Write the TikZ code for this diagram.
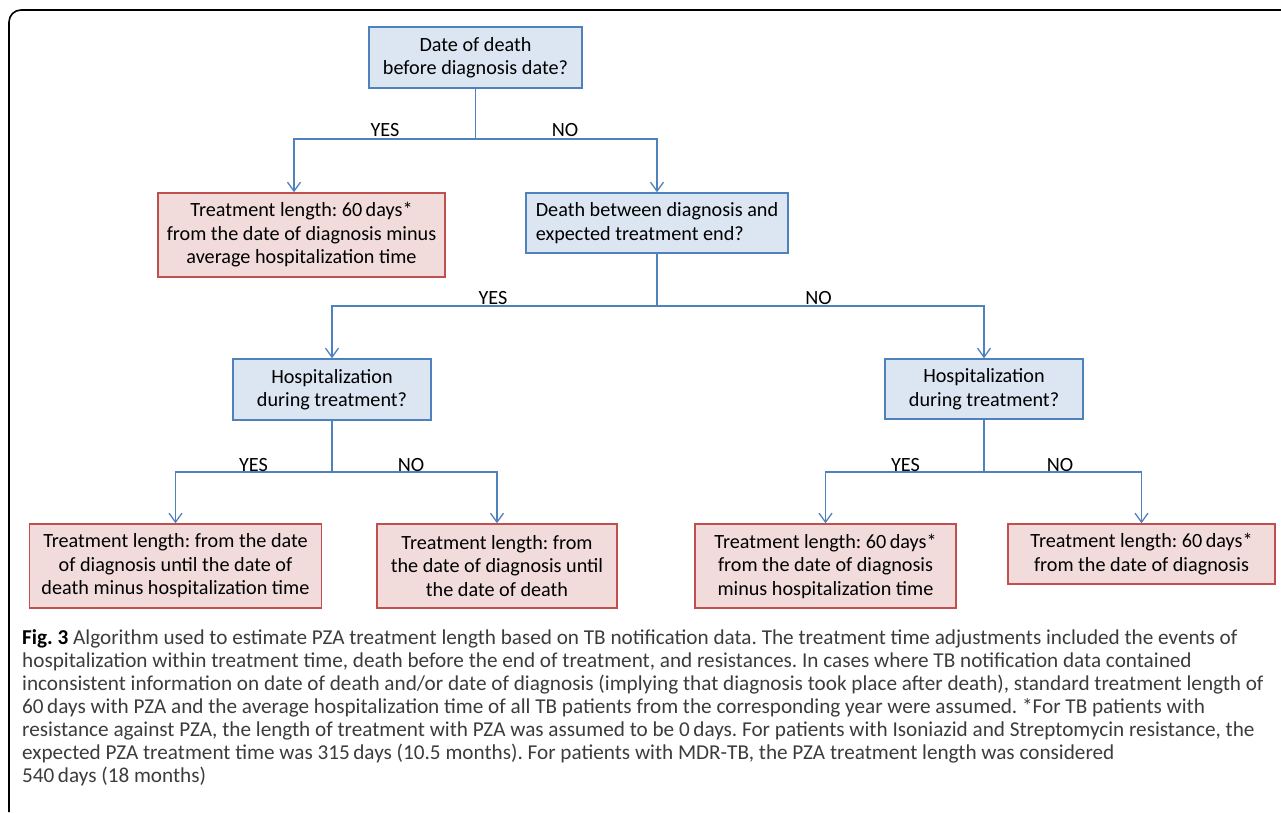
\documentclass[tikz,border=0pt]{standalone}
\usepackage{fontspec}
\setmainfont{Carlito}
\usepackage{xcolor}
\usetikzlibrary{arrows.meta,positioning}
\frenchspacing

\definecolor{qfill}{HTML}{DCE6F2}
\definecolor{qline}{HTML}{4F81BD}
\definecolor{rfill}{HTML}{F2DCDB}
\definecolor{rline}{HTML}{C0504D}
\definecolor{capgray}{HTML}{3C3C3C}

\begin{document}
\begin{tikzpicture}[x=1pt,y=-1pt,
  every node/.style={font=\fontsize{20.2}{23.5}\selectfont},
  quest/.style={draw=qline,fill=qfill,line width=1.5pt,align=center,inner sep=2pt},
  result/.style={draw=rline,fill=rfill,line width=1.5pt,align=center,inner sep=2pt},
  lbl/.style={anchor=base,inner sep=0pt},
  link/.style={draw=qline,line width=1.3pt,-{Straight Barb[length=9pt,width=13pt]}}]
\useasboundingbox (0,0) rectangle (1281,812);
% frame
\draw[line width=1.6pt,rounded corners=12pt] (9,812) -- (9,10) -- (1281,10);

% questions
\node[quest,minimum width=213pt,minimum height=61pt] (death) at (475.5,57.5) {Date of death\\before diagnosis date?};
\node[quest,align=left,minimum width=262pt,minimum height=60pt] (during) at (657,223) {Death between diagnosis and\\expected treatment end?};
\node[quest,minimum width=198pt,minimum height=61pt] (hospA) at (332,389.5) {Hospitalization\\during treatment?};
\node[quest,minimum width=198pt,minimum height=60pt] (hospB) at (984,389) {Hospitalization\\during treatment?};

% results
\node[result,minimum width=287pt,minimum height=84pt] (early) at (301.5,235) {Treatment length: 60\,days*\\from the date of diagnosis minus\\average hospitalization time};
\node[result,minimum width=292pt,minimum height=84pt] (resA) at (175.5,566) {Treatment length: from the date\\of diagnosis until the date of\\death minus hospitalization time};
\node[result,minimum width=240pt,minimum height=84pt] (resB) at (497,566) {Treatment length: from\\the date of diagnosis until\\the date of death};
\node[result,minimum width=261pt,minimum height=84pt] (resC) at (825.5,566) {Treatment length: 60\,days*\\from the date of diagnosis\\minus hospitalization time};
\node[result,minimum width=267pt,minimum height=60pt] (resD) at (1141.5,554) {Treatment length: 60\,days*\\from the date of diagnosis};

% branch points
\coordinate (j1) at (475.5,139);
\coordinate (j2) at (657,306);
\coordinate (j3) at (332,472);
\coordinate (j4) at (984,472);

\draw[link] (death) -- (j1) -| ([xshift=-7.5pt]early.north);
\draw[link] (j1) -| (during);
\draw[link] (during) -- (j2) -| (hospA);
\draw[link] (j2) -| (hospB);
\draw[link] (hospA) -- (j3) -| (resA);
\draw[link] (j3) -| (resB);
\draw[link] (hospB) -- (j4) -| (resC);
\draw[link] (j4) -| (resD);

\node[lbl] (yes1) at (385,136) {YES};
\node[lbl] (no1) at (565,136) {NO};
\node[lbl] (yes2) at (493,304) {YES};
\node[lbl] (no2) at (818.5,304) {NO};
\node[lbl] (yes3) at (253.5,471) {YES};
\node[lbl] (no3) at (411,471) {NO};
\node[lbl] (yes4) at (905.5,471) {YES};
\node[lbl] (no4) at (1060,471) {NO};

% caption
\node[anchor=north west,align=left,inner sep=0pt,text=capgray,font=\fontsize{21.2}{23}\selectfont] (caption) at (22,629) {%
{\color{black}\textbf{Fig. 3}} Algorithm used to estimate PZA treatment length based on TB notification data. The treatment time adjustments included the events of\\
hospitalization within treatment time, death before the end of treatment, and resistances. In cases where TB notification data contained\\
inconsistent information on date of death and/or date of diagnosis (implying that diagnosis took place after death), standard treatment length of\\
60\,days with PZA and the average hospitalization time of all TB patients from the corresponding year were assumed. *For TB patients with\\
resistance against PZA, the length of treatment with PZA was assumed to be 0\,days. For patients with Isoniazid and Streptomycin resistance, the\\
expected PZA treatment time was 315\,days (10.5 months). For patients with MDR-TB, the PZA treatment length was considered\\
540\,days (18 months)};
\end{tikzpicture}
\end{document}
